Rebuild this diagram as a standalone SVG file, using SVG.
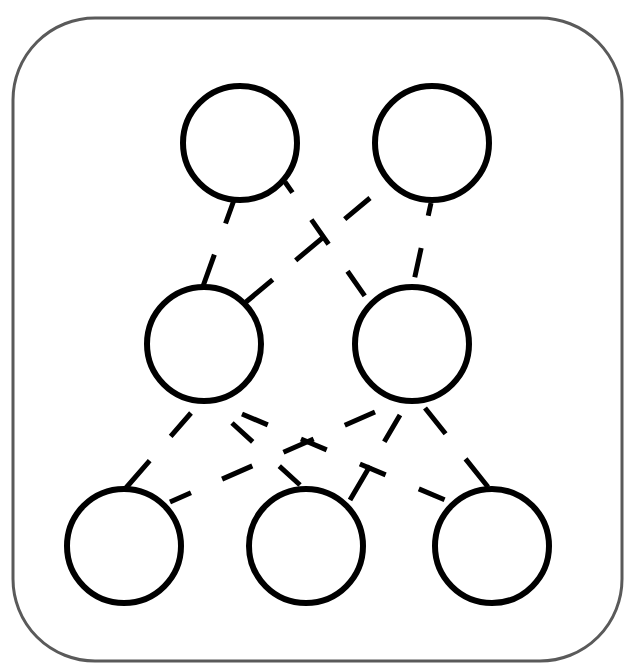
<svg xmlns="http://www.w3.org/2000/svg" width="628" height="667" viewBox="0 0 628 667">
<style>
.frame{fill:#fff;stroke:#5a5a5a;stroke-width:3}
.node{fill:none;stroke:#000;stroke-width:6}
.edge{stroke:#000;stroke-width:5;stroke-linecap:butt;fill:none}
</style>
<rect width="628" height="667" fill="#fff"/>
<rect class="frame" x="13" y="18" width="609" height="643" rx="82" ry="82"/>
<g id="connectors">
<line class="edge" x1="234" y1="200" x2="202" y2="289" stroke-dasharray="25 33 40 40"/>
<line class="edge" x1="285" y1="182" x2="369" y2="302" stroke-dasharray="30 33" stroke-dashoffset="17"/>
<line class="edge" x1="370" y1="198" x2="246" y2="302" stroke-dasharray="33 27 37 30 40"/>
<line class="edge" x1="431" y1="203" x2="412" y2="290" stroke-dasharray="30 33" stroke-dashoffset="17"/>
<line class="edge" x1="191" y1="413" x2="125" y2="489" stroke-dasharray="31 32 40"/>
<line class="edge" x1="232" y1="423" x2="300" y2="485" stroke-dasharray="28 36 40"/>
<line class="edge" x1="242" y1="414" x2="445" y2="500" stroke-dasharray="28 36"/>
<line class="edge" x1="375" y1="412" x2="170" y2="502" stroke-dasharray="33 34"/>
<line class="edge" x1="400" y1="415" x2="350" y2="500" stroke-dasharray="31 28 40"/>
<line class="edge" x1="425" y1="408" x2="488" y2="487" stroke-dasharray="33 32 40"/>
</g>
<g id="n-top-left"><circle class="node" cx="240" cy="143" r="57"/></g>
<g id="n-top-right"><circle class="node" cx="432" cy="143" r="57"/></g>
<g id="n-mid-left"><circle class="node" cx="204" cy="344" r="57"/></g>
<g id="n-mid-right"><circle class="node" cx="412" cy="344" r="57"/></g>
<g id="n-bot-left"><circle class="node" cx="124" cy="546" r="57"/></g>
<g id="n-bot-mid"><circle class="node" cx="306" cy="546" r="57"/></g>
<g id="n-bot-right"><circle class="node" cx="492" cy="546" r="57"/></g>
</svg>
